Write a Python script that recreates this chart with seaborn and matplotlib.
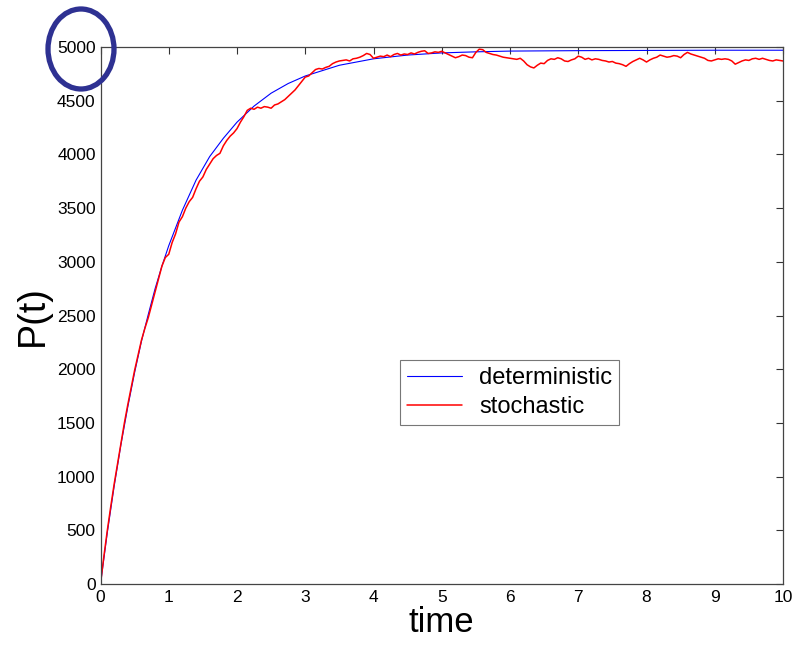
import numpy as np
import pandas as pd
import matplotlib
matplotlib.use('Agg')
import matplotlib.pyplot as plt
import seaborn as sns
from matplotlib.patches import Ellipse

# deterministic curve
t_det = [0, 0.1, 0.2, 0.3, 0.4, 0.5, 0.6, 0.7, 0.8, 0.9, 1.0, 1.2, 1.4, 1.6, 1.8,
         2.0, 2.25, 2.5, 2.75, 3.0, 3.5, 4.0, 4.5, 5.0, 5.5, 6.0, 7.0, 8.0, 9.0, 10.0]
p_det = [0, 480, 910, 1300, 1650, 1970, 2260, 2510, 2750, 2960, 3150, 3480, 3760, 3980, 4150,
         4300, 4450, 4570, 4660, 4730, 4830, 4890, 4925, 4945, 4955, 4962, 4966, 4968, 4970, 4970]

# stochastic run, one value every 0.05 time units (0 .. 10)
p_stoch = [
    0, 260, 500, 720, 930, 1120, 1310, 1500, 1670, 1830,
    1990, 2130, 2270, 2380, 2480, 2600, 2720, 2840, 2960, 3040,
    3070, 3180, 3260, 3370, 3420, 3500, 3560, 3600, 3680, 3750,
    3790, 3860, 3910, 3960, 3990, 4010, 4080, 4130, 4170, 4200,
    4240, 4300, 4350, 4410, 4430, 4420, 4440, 4430, 4445, 4440,
    4430, 4460, 4470, 4490, 4510, 4540, 4570, 4600, 4640, 4680,
    4720, 4730, 4760, 4790, 4800, 4795, 4810, 4820, 4845, 4860,
    4870, 4875, 4880, 4870, 4890, 4895, 4905, 4920, 4940, 4930,
    4895, 4905, 4915, 4910, 4925, 4910, 4930, 4940, 4925, 4935,
    4930, 4945, 4935, 4950, 4960, 4965, 4940, 4945, 4955, 4950,
    4960, 4945, 4930, 4915, 4900, 4910, 4925, 4920, 4905, 4900,
    4950, 4980, 4975, 4950, 4940, 4930, 4925, 4915, 4905, 4900,
    4895, 4890, 4885, 4895, 4870, 4835, 4815, 4805, 4830, 4850,
    4845, 4875, 4890, 4885, 4900, 4890, 4870, 4865, 4880, 4890,
    4915, 4905, 4885, 4895, 4880, 4890, 4885, 4875, 4870, 4860,
    4865, 4850, 4845, 4835, 4820, 4845, 4865, 4880, 4895, 4880,
    4860, 4880, 4895, 4905, 4925, 4915, 4905, 4910, 4920, 4915,
    4900, 4930, 4950, 4935, 4925, 4915, 4905, 4895, 4875, 4870,
    4880, 4890, 4885, 4890, 4885, 4870, 4840, 4855, 4870, 4880,
    4875, 4890, 4895, 4885, 4895, 4885, 4875, 4870, 4880, 4875,
    4870,
]
t_stoch = np.linspace(0, 10, len(p_stoch))

x_ticks = list(range(0, 11))
y_ticks = list(range(0, 5001, 500))

sns.set_style('white')
plt.rcParams['font.family'] = ['Liberation Sans', 'DejaVu Sans']
plt.rcParams['text.color'] = 'black'
plt.rcParams['axes.labelcolor'] = 'black'

fig = plt.figure(figsize=(7.96, 6.48), dpi=100)
ax = fig.add_axes([100.5 / 796, 64 / 648, 682.5 / 796, 537 / 648])

sns.lineplot(x=t_det, y=p_det, ax=ax, color='#0000ff', linewidth=0.8, label='deterministic')
sns.lineplot(x=t_stoch, y=p_stoch, ax=ax, color='#ff0000', linewidth=1.1, label='stochastic')

ax.set_xlim(0, 10)
ax.set_ylim(0, 5000)
ax.set_xticks(x_ticks)
ax.set_yticks(y_ticks)
ax.tick_params(direction='in', length=5, width=0.8, labelsize=12.5, colors='#333333',
               top=True, right=True, labelcolor='black')
ax.tick_params(axis='x', pad=4)
for s in ax.spines.values():
    s.set_color('#444444')
    s.set_linewidth(0.9)

ax.set_xlabel('time', fontsize=25, labelpad=1)
ax.set_ylabel('P(t)', fontsize=27, labelpad=4)

leg = ax.legend(loc='lower left', bbox_to_anchor=(0.439, 0.296), fontsize=17,
                frameon=True, fancybox=False, handlelength=2.3, borderpad=0.3,
                labelspacing=0.28, handletextpad=0.75, borderaxespad=0)
leg.get_frame().set_edgecolor('#555555')
leg.get_frame().set_linewidth(0.8)

# blue ring around the 5000 label
ring = Ellipse((81 / 796, 1 - 49 / 648), 66 / 796, 80 / 648, transform=fig.transFigure,
               fill=False, edgecolor='#2e3192', linewidth=3.8, clip_on=False)
fig.add_artist(ring)

fig.savefig('out.png', dpi=100)
